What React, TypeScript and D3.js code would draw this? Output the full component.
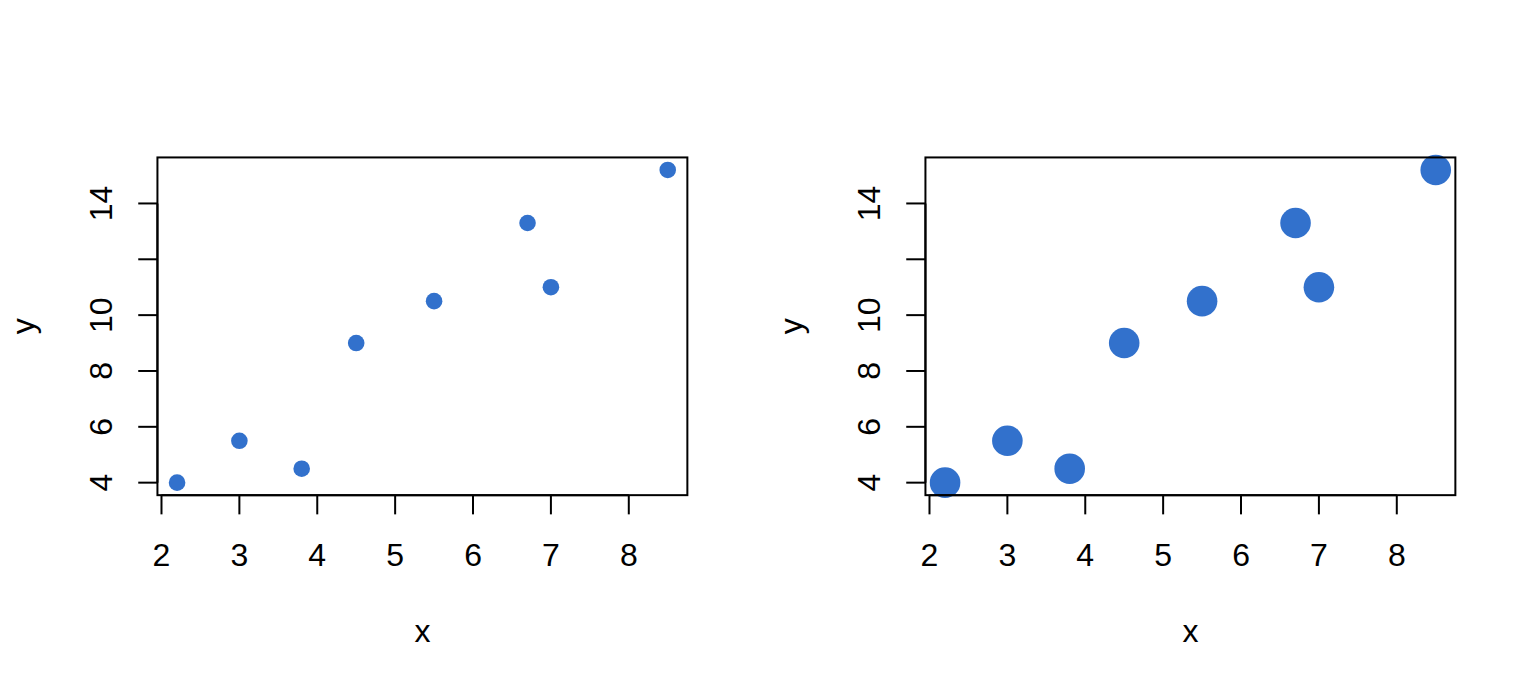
import React from "react";
import * as d3 from "d3";

const xValues = [2.2, 3, 3.8, 4.5, 5.5, 6.7, 7, 8.5];
const yValues = [4, 5.5, 4.5, 9, 10.5, 13.3, 11, 15.2];
const xTicks = [2, 3, 4, 5, 6, 7, 8];
const yTicks = [4, 6, 8, 10, 12, 14];
const yTickLabels = ["4", "6", "8", "10", "", "14"];
const panelRadii = [8.3, 15.3];
const xLabel = "x";
const yLabel = "y";

const W = 1536;
const H = 691;
const PANEL_W = 768;
const LINE = 38.4;
const FONT = "'Liberation Sans', Arial, Helvetica, sans-serif";
const COLOR = "#3271cc";

function expand(vals: number[]): [number, number] {
  const [a, b] = d3.extent(vals) as [number, number];
  const r = b - a;
  return [a - 0.04 * r, b + 0.04 * r];
}

function Panel({ offset, radius }: { offset: number; radius: number }) {
  const left = offset + 4.1 * LINE;
  const right = offset + PANEL_W - 2.1 * LINE;
  const top = 4.1 * LINE;
  const bottom = H - 5.1 * LINE;
  const x = d3.scaleLinear().domain(expand(xValues)).range([left, right]);
  const y = d3.scaleLinear().domain(expand(yValues)).range([bottom, top]);
  const tick = 0.5 * LINE;
  const cx = (left + right) / 2;
  const cy = (top + bottom) / 2;
  return (
    <g>
      {xValues.map((v, i) => (
        <circle key={i} cx={x(v)} cy={y(yValues[i])} r={radius} fill={COLOR} />
      ))}
      <rect x={left} y={top} width={right - left} height={bottom - top} fill="none" stroke="#000" strokeWidth={2} />
      {/* x axis */}
      <line x1={x(xTicks[0])} x2={x(xTicks[xTicks.length - 1])} y1={bottom} y2={bottom} stroke="#000" strokeWidth={2} />
      {xTicks.map((t) => (
        <g key={t}>
          <line x1={x(t)} x2={x(t)} y1={bottom} y2={bottom + tick} stroke="#000" strokeWidth={2} />
          <text x={x(t)} y={bottom + 70.5} fontSize={32} fontFamily={FONT} textAnchor="middle" fill="#000">
            {t}
          </text>
        </g>
      ))}
      {/* y axis */}
      <line x1={left} x2={left} y1={y(yTicks[0])} y2={y(yTicks[yTicks.length - 1])} stroke="#000" strokeWidth={2} />
      {yTicks.map((t, i) => (
        <g key={t}>
          <line x1={left} x2={left - tick} y1={y(t)} y2={y(t)} stroke="#000" strokeWidth={2} />
          {yTickLabels[i] && (
            <text
              transform={`translate(${left - 45.5},${y(t)}) rotate(-90)`}
              fontSize={32}
              fontFamily={FONT}
              textAnchor="middle"
              fill="#000"
            >
              {yTickLabels[i]}
            </text>
          )}
        </g>
      ))}
      <text x={cx} y={bottom + 147} fontSize={32} fontFamily={FONT} textAnchor="middle" fill="#000">
        {xLabel}
      </text>
      <text
        transform={`translate(${left - 123.5},${cy}) rotate(-90)`}
        fontSize={32}
        fontFamily={FONT}
        textAnchor="middle"
        fill="#000"
      >
        {yLabel}
      </text>
    </g>
  );
}

export default function App() {
  return (
    <div style={{ position: "fixed", left: 0, top: 0 }}>
      <svg width={W} height={H} style={{ display: "block", background: "#fff" }}>
        <rect width={W} height={H} fill="#fff" />
        {panelRadii.map((r, i) => (
          <Panel key={i} offset={i * PANEL_W} radius={r} />
        ))}
      </svg>
    </div>
  );
}
